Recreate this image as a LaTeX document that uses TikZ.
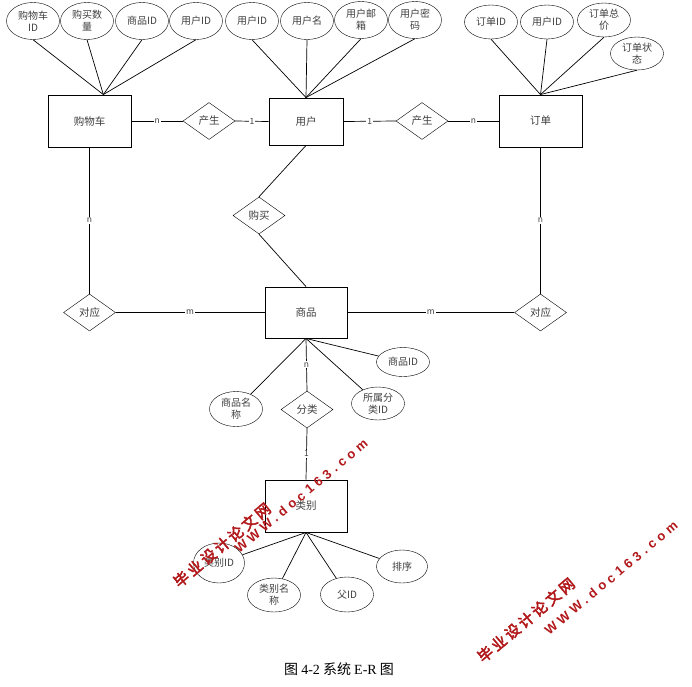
\documentclass[tikz,border=0pt]{standalone}
\usepackage{fontspec}
\setmainfont{Noto Sans CJK SC}
\newfontfamily\capserif{Liberation Serif}
\newfontfamily\wmcjk[LetterSpace=18,FakeBold=3]{Noto Sans CJK SC}
\newfontfamily\wmlat[LetterSpace=32]{Liberation Sans}
\usetikzlibrary{shapes.geometric,calc}
\definecolor{txt}{gray}{0.25}
\definecolor{wmred}{RGB}{178,24,26}
\tikzset{
  entity/.style={draw, line width=0.9pt, minimum width=83pt, minimum height=52pt, inner sep=0pt, text=txt, font=\fontsize{10.5}{12}\selectfont},
  rel/.style={draw, diamond, aspect=1.4, minimum width=52pt, minimum height=37pt, inner sep=0pt, text=txt, font=\fontsize{10.5}{12}\selectfont},
  attr/.style={draw, ellipse, minimum width=53pt, minimum height=37pt, inner sep=0pt, align=center, text=txt, font=\fontsize{10}{12}\selectfont},
  card/.style={fill=white, inner sep=1pt, text=txt, font=\fontsize{8.5}{9}\selectfont},
  link/.style={line width=0.7pt},
  wm/.style={text=wmred, inner sep=0pt},
}
\begin{document}
\begin{tikzpicture}[x=1pt,y=-1pt]
\useasboundingbox[fill=white] (0,0) rectangle (692,686);

% entities
\node[entity] (cart) at (89.5,121) {购物车};
\node[entity, minimum width=74pt, minimum height=47pt] (user) at (306,121.5) {用户};
\node[entity] (order) at (540.5,121) {订单};
\node[entity, minimum width=82pt, minimum height=51pt] (goods) at (306,312.5) {商品};
\node[entity, minimum width=82pt] (cat) at (306,506) {类别};

% relationships
\node[rel] (chan1) at (209,121) {产生};
\node[rel] (chan2) at (422,121) {产生};
\node[rel] (buy) at (259,215.5) {购买};
\node[rel] (corr1) at (89.5,312.5) {对应};
\node[rel] (corr2) at (540.5,312.5) {对应};
\node[rel] (cls) at (307,409.5) {分类};

% attributes of cart
\node[attr] (ca1) at (33,21) {购物车\\ID};
\node[attr] (ca2) at (87,21) {购买数\\量};
\node[attr] (ca3) at (142,21) {商品ID};
\node[attr] (ca4) at (196,21) {用户ID};
% attributes of user
\node[attr] (ua1) at (252,21) {用户ID};
\node[attr] (ua2) at (307,21) {用户名};
\node[attr] (ua3) at (361,20) {用户邮\\箱};
\node[attr] (ua4) at (415,20) {用户密\\码};
% attributes of order
\node[attr, minimum height=34pt] (oa1) at (491,22) {订单ID};
\node[attr, minimum height=34pt] (oa2) at (547,22) {用户ID};
\node[attr, minimum height=34pt] (oa3) at (604,20) {订单总\\价};
\node[attr, minimum height=33pt] (oa4) at (637,53.5) {订单状\\态};
% attributes of goods
\node[attr, minimum height=35pt] (ga1) at (236,409) {商品名\\称};
\node[attr, minimum height=29pt] (ga2) at (403,362) {商品ID};
\node[attr, minimum height=33pt] (ga3) at (378,403.5) {所属分\\类ID};
% attributes of category
\node[attr, minimum width=51pt, minimum height=40pt] (ta1) at (219,563) {类别ID};
\node[attr, minimum height=34pt] (ta2) at (274,595) {类别名\\称};
\node[attr, minimum height=35pt] (ta3) at (347,594.5) {父ID};
\node[attr, minimum width=51pt, minimum height=33pt] (ta4) at (402,566.5) {排序};

% attribute links
\coordinate (cartJ) at ($(cart.north)!0.33!(cart.north east)$);
\foreach \a in {ca1,ca2,ca3,ca4} \draw[link] (\a.south) -- (cartJ);
\foreach \a in {ua1,ua2,ua3,ua4} \draw[link] (\a.south) -- (user.north);
\foreach \a in {oa1,oa2,oa3,oa4} \draw[link] (\a.south) -- (order.north);
\foreach \a in {ga1,ga2,ga3} \draw[link] (goods.south) -- (\a);
\foreach \a in {ta1,ta2,ta3,ta4} \draw[link] (cat.south) -- (\a);

% relationship links
\draw[link] (cart.east) -- node[card]{n} (chan1.west);
\draw[link] (chan1.east) -- node[card]{1} (user.west);
\draw[link] (user.east) -- node[card]{1} (chan2.west);
\draw[link] (chan2.east) -- node[card]{n} (order.west);
\draw[link] (user.south) -- (buy.north);
\draw[link] (buy.south) -- (goods.north);
\draw[link] (cart.south) -- node[card]{n} (corr1.north);
\draw[link] (corr1.east) -- node[card]{m} (goods.west);
\draw[link] (order.south) -- node[card]{n} (corr2.north);
\draw[link] (goods.east) -- node[card]{m} (corr2.west);
\draw[link] (goods.south) -- node[card]{n} (cls.north);
\draw[link] (cls.south) -- node[card]{1} (cat.north);

% caption
\node (cap) at (339,669) {\fontsize{14}{14}\selectfont 图 {\capserif 4-2} 系统 {\capserif E-R} 图};

% watermarks
\node[wm, rotate=40] (wm1a) at (222,545) {\wmcjk\fontsize{15}{15}\selectfont 毕业设计论文网};
\node[wm, rotate=40] (wm1b) at (301,496) {\wmlat\bfseries\fontsize{13}{13}\selectfont WWW.doc163.com};
\node[wm, rotate=40] (wm2a) at (526,620) {\wmcjk\fontsize{15}{15}\selectfont 毕业设计论文网};
\node[wm, rotate=40] (wm2b) at (611,578) {\wmlat\bfseries\fontsize{13}{13}\selectfont WWW.doc163.com};
\end{tikzpicture}
\end{document}
